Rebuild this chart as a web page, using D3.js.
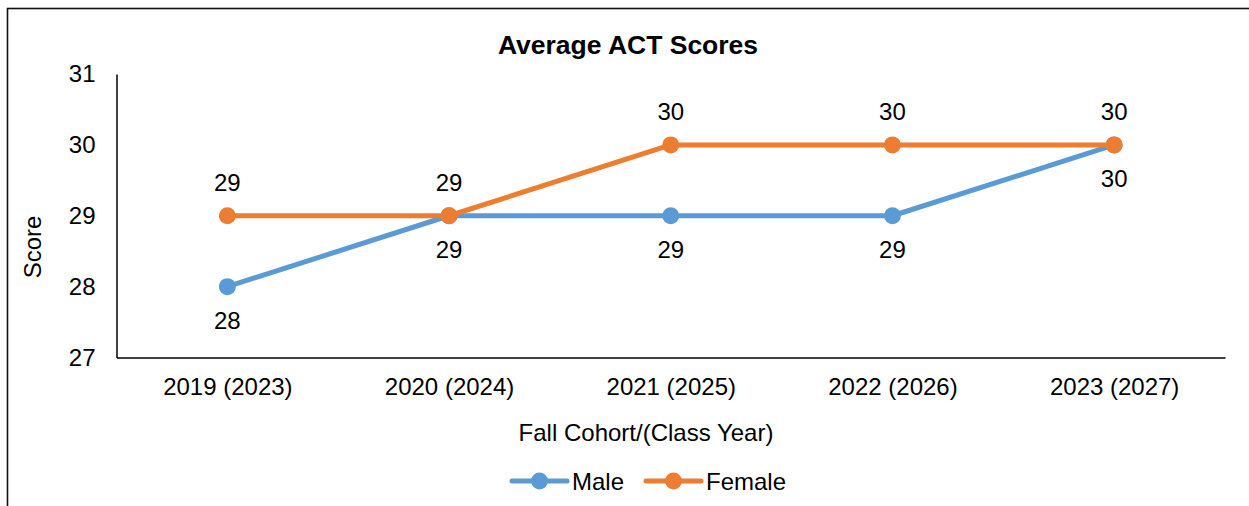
<!DOCTYPE html>
<html>
<head>
<meta charset="utf-8">
<script src="https://cdn.jsdelivr.net/npm/d3@7"></script>
<style>
    body { margin: 0; background: #fff; }
    svg text { font-family: "Liberation Sans", Arial, sans-serif; fill: #000; }
</style>
</head>
<body>
<script>
'use strict';

var cohorts = ["2019 (2023)", "2020 (2024)", "2021 (2025)", "2022 (2026)", "2023 (2027)"];
var maleScores = [28, 29, 29, 29, 30];
var femaleScores = [29, 29, 30, 30, 30];
var yTicks = [27, 28, 29, 30, 31];

var series = [
    {name: "Male", values: maleScores, color: "#5B9BD5", labelPos: "below"},
    {name: "Female", values: femaleScores, color: "#ED7D31", labelPos: "above"}
];

var width = 1249, height = 506;
var plot = {left: 116.5, right: 1225, top: 74, bottom: 357.5};
var FONT = "24px";

var svg = d3.select("body").append("svg")
    .attr("width", width)
    .attr("height", height);

// outer chart frame (runs off the right and bottom edge)
svg.append("rect")
    .attr("x", 7.5)
    .attr("y", 8.5)
    .attr("width", 1300)
    .attr("height", 600)
    .attr("fill", "none")
    .attr("stroke", "#111")
    .attr("stroke-width", 1.6);

var x = d3.scalePoint()
    .domain(cohorts)
    .range([plot.left, plot.right])
    .padding(0.5);

var y = d3.scaleLinear()
    .domain([27, 31])
    .range([plot.bottom, plot.top]);

svg.append("text")
    .attr("x", 628)
    .attr("y", 54)
    .attr("text-anchor", "middle")
    .style("font-size", "26.5px")
    .style("font-weight", "bold")
    .text("Average ACT Scores");

var yAxis = svg.append("g")
    .attr("transform", "translate(" + plot.left + ",0)")
    .call(d3.axisLeft(y).tickValues(yTicks).tickSize(0).tickPadding(21).tickFormat(d3.format("d")));

var xAxis = svg.append("g")
    .attr("transform", "translate(0," + plot.bottom + ")")
    .call(d3.axisBottom(x).tickSize(0).tickPadding(20));

[yAxis, xAxis].forEach(function(axis) {
    axis.select(".domain").attr("stroke", "#000").attr("stroke-width", 1.5);
    axis.selectAll("text")
        .style("font-size", FONT)
        .style("font-family", "'Liberation Sans', Arial, sans-serif")
        .attr("fill", "#000");
});

svg.append("text")
    .attr("transform", "translate(41,247) rotate(-90)")
    .attr("text-anchor", "middle")
    .style("font-size", FONT)
    .text("Score");

svg.append("text")
    .attr("x", 646)
    .attr("y", 441)
    .attr("text-anchor", "middle")
    .style("font-size", FONT)
    .text("Fall Cohort/(Class Year)");

var line = d3.line()
    .x(function(d, i) { return x(cohorts[i]); })
    .y(function(d) { return y(d); });

var groups = svg.selectAll("g.series")
    .data(series)
    .enter()
    .append("g")
    .attr("class", "series");

groups.append("path")
    .attr("d", function(s) { return line(s.values); })
    .attr("fill", "none")
    .attr("stroke", function(s) { return s.color; })
    .attr("stroke-width", 5)
    .attr("stroke-linejoin", "round")
    .attr("stroke-linecap", "round");

groups.selectAll("circle")
    .data(function(s) { return s.values.map(function(v, i) { return {v: v, i: i, s: s}; }); })
    .enter()
    .append("circle")
    .attr("cx", function(d) { return x(cohorts[d.i]); })
    .attr("cy", function(d) { return y(d.v); })
    .attr("r", 8.5)
    .attr("fill", function(d) { return d.s.color; });

groups.selectAll("text.label")
    .data(function(s) { return s.values.map(function(v, i) { return {v: v, i: i, s: s}; }); })
    .enter()
    .append("text")
    .attr("class", "label")
    .attr("x", function(d) { return x(cohorts[d.i]); })
    .attr("y", function(d) { return y(d.v) + (d.s.labelPos == "above" ? -25 : 42); })
    .attr("text-anchor", "middle")
    .style("font-size", FONT)
    .text(function(d) { return d.v; });

// legend
var legendX = [512, 646];
var legend = svg.selectAll("g.legend")
    .data(series)
    .enter()
    .append("g")
    .attr("class", "legend")
    .attr("transform", function(s, i) { return "translate(" + legendX[i] + ",481)"; });

legend.append("line")
    .attr("x1", 0)
    .attr("x2", 55)
    .attr("stroke", function(s) { return s.color; })
    .attr("stroke-width", 5)
    .attr("stroke-linecap", "round");

legend.append("circle")
    .attr("cx", 27.5)
    .attr("r", 8.5)
    .attr("fill", function(s) { return s.color; });

legend.append("text")
    .attr("x", 60)
    .attr("y", 8.5)
    .style("font-size", FONT)
    .text(function(s) { return s.name; });
</script>
</body>
</html>
